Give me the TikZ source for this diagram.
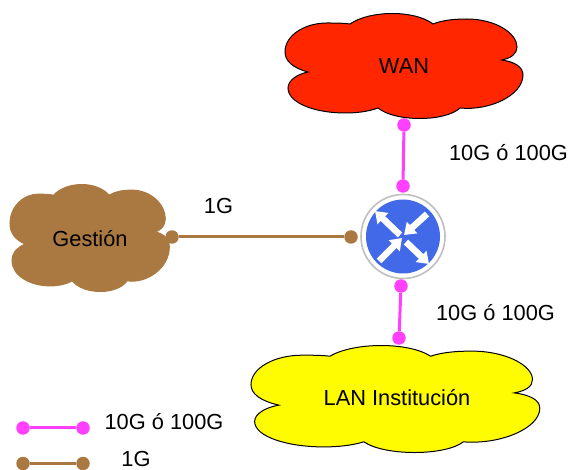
\documentclass[tikz,border=0pt]{standalone}
\usepackage{fontspec}
\setmainfont{Liberation Sans}
\usetikzlibrary{arrows.meta}
\definecolor{pinkc}{HTML}{FF40FF}
\definecolor{brownc}{HTML}{AA7942}
\definecolor{redc}{HTML}{FF2600}
\definecolor{yellowc}{HTML}{FFFB00}
\definecolor{routerb}{HTML}{4169E8}
\newcommand{\cloudshape}[6]{% x0,y0,w,h,fill,draw
  \path[fill=#5,draw=#6,line width=1pt,shift={(#1,#2)},xscale=#3/239,yscale=#4/105]
  (65,11) .. controls (85,-3) and (130,-3) .. (148,11)
  .. controls (158,7) and (170,6) .. (182,6)
  .. controls (210,6) and (232,20) .. (232,34)
  .. controls (232,41) and (226,45) .. (217,47)
  .. controls (230,49) and (238,54) .. (238,62)
  .. controls (238,82) and (205,98) .. (175,95)
  .. controls (160,109) and (110,109) .. (93,95)
  .. controls (82,99) and (70,100) .. (60,100)
  .. controls (30,100) and (3,90) .. (3,75)
  .. controls (3,67) and (13,61) .. (23,59)
  .. controls (8,55) and (0,48) .. (0,39)
  .. controls (0,22) and (20,10) .. (42,10)
  .. controls (50,10) and (58,10) .. (65,11) -- cycle;}
\tikzset{
  x=1pt,y=-1pt,
  lbl/.style={font=\fontsize{21.8}{24}\selectfont,text=black,inner sep=0pt},
  pinkdot/.style={circle,fill=pinkc,minimum size=13.5pt,inner sep=0pt},
  browndot/.style={circle,fill=brownc,minimum size=13.5pt,inner sep=0pt},
  pinkline/.style={draw=pinkc,line width=3pt},
  brownline/.style={draw=brownc,line width=3pt},
  rarrow/.style={white,line width=6.5pt,-{Triangle[length=11pt,width=15pt]}}
}
\begin{document}
\begin{tikzpicture}
\useasboundingbox (0,0) rectangle (568,470);
\cloudshape{285}{13}{239}{105}{redc}{black}
\cloudshape{251}{345}{290}{107}{yellowc}{black}
\cloudshape{10}{184}{160}{107}{brownc}{brownc}
\node[lbl] (wan) at (404,66) {WAN};
\node[lbl] (ges) at (90,239) {Gestión};
\node[lbl] (lan) at (397,398) {LAN Institución};
% router
\node[circle,draw=black!25,fill=white,line width=1.6pt,minimum size=84pt,inner sep=0pt] (router) at (403,236.5) {};
\node[circle,fill=routerb,minimum size=74pt,inner sep=0pt] (routerc) at (403,236.5) {};
\coordinate (a1) at (400,235); \coordinate (a1t) at (375,211);
\coordinate (a2) at (427,214); \coordinate (a2t) at (404,235);
\coordinate (a3) at (379,261); \coordinate (a3t) at (402,238);
\coordinate (a4) at (406,242); \coordinate (a4t) at (429,264);
\draw[rarrow] (a1) -- (a1t);
\draw[rarrow] (a2) -- (a2t);
\draw[rarrow] (a3) -- (a3t);
\draw[rarrow] (a4) -- (a4t);
% dots
\node[pinkdot] (p1) at (404,125) {};
\node[pinkdot] (p2) at (403,186) {};
\node[pinkdot] (p3) at (401,286) {};
\node[pinkdot] (p4) at (399,338) {};
\node[browndot] (b1) at (172,237) {};
\node[browndot] (b2) at (351,237) {};
\draw[pinkline] (p1) -- (p2);
\draw[pinkline] (p3) -- (p4);
\draw[brownline] (b1) -- (b2);
% legend
\node[pinkdot] (l1) at (23,428) {};
\node[pinkdot] (l2) at (83,428) {};
\node[browndot] (l3) at (23,463.5) {};
\node[browndot] (l4) at (83,463.5) {};
\draw[pinkline] (l1) -- (l2);
\draw[brownline] (l3) -- (l4);
% labels
\node[lbl] (t1) at (508.5,153) {10G ó 100G};
\node[lbl] (t2) at (495.5,313) {10G ó 100G};
\node[lbl] (t3) at (218.5,206) {1G};
\node[lbl] (t4) at (164,422) {10G ó 100G};
\node[lbl] (t5) at (136,459) {1G};
\end{tikzpicture}
\end{document}
